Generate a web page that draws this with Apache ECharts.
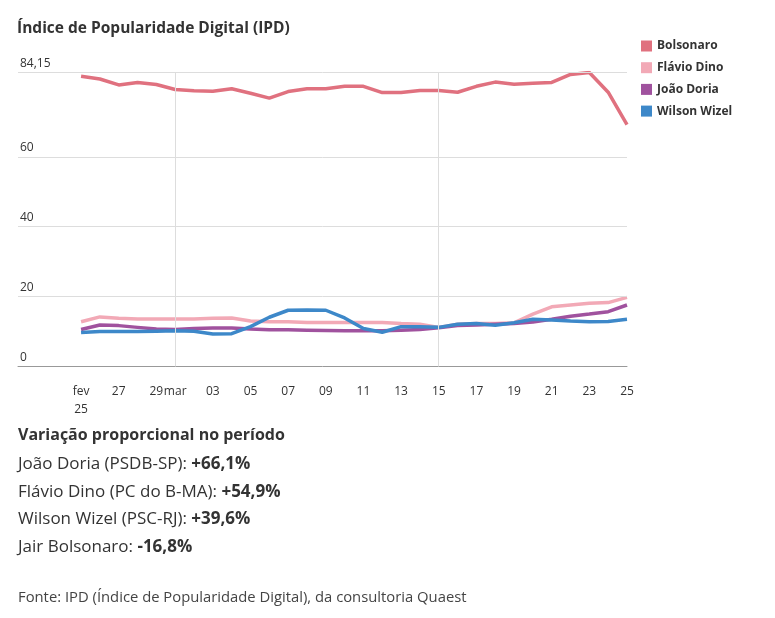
<!DOCTYPE html>
<html lang="pt">
<head>
  <meta charset="UTF-8">
  <script src="https://cdn.jsdelivr.net/npm/echarts@6/dist/echarts.min.js"></script>
  <style>
    body { margin: 0; background: #fff; }
    #main { width: 775px; height: 618px; }
  </style>
  <title>IPD</title>
</head>
<body>
  <div id="main"></div>
  <script>
    // 25 fev a 25 mar (30 dias)
    const dayLabels = ['fev\n25', '26', '27', '28', '29', 'mar', '02', '03', '04', '05', '06', '07', '08', '09', '10',
      '11', '12', '13', '14', '15', '16', '17', '18', '19', '20', '21', '22', '23', '24', '25'];
    const labelIdx = [0, 2, 4, 5, 7, 9, 11, 13, 15, 17, 19, 21, 23, 25, 27, 29];
    const gridIdx = [5, 19];
    const yTicks = [0, 20, 40, 60, 84.15];

    const bolsonaro = [83.1, 82.3, 80.6, 81.3, 80.7, 79.3, 78.9, 78.8, 79.5, 78.2, 76.8, 78.7, 79.5, 79.5, 80.2,
      80.2, 78.4, 78.4, 79.0, 79.0, 78.5, 80.2, 81.4, 80.8, 81.1, 81.3, 83.6, 84.15, 78.5, 69.2];
    const flavio = [12.8, 14.2, 13.8, 13.6, 13.6, 13.6, 13.6, 13.8, 13.9, 13.0, 12.8, 12.8, 12.6, 12.6, 12.6,
      12.6, 12.6, 12.3, 12.1, 11.2, 12.1, 12.3, 12.3, 12.5, 15.0, 17.1, 17.6, 18.1, 18.3, 19.8];
    const doria = [10.6, 11.9, 11.7, 11.2, 10.7, 10.6, 10.9, 11.0, 11.0, 10.7, 10.5, 10.5, 10.4, 10.3, 10.2,
      10.2, 10.2, 10.4, 10.6, 11.1, 11.7, 11.9, 12.1, 12.3, 12.7, 13.5, 14.4, 15.0, 15.7, 17.6];
    const witzel = [9.7, 10.0, 10.0, 10.0, 10.1, 10.2, 10.1, 9.3, 9.4, 11.4, 14.1, 16.1, 16.2, 16.1, 13.9,
      10.9, 9.8, 11.4, 11.4, 11.2, 12.1, 12.3, 11.8, 12.5, 13.5, 13.3, 13.0, 12.8, 12.9, 13.5];

    const names = ['Bolsonaro', 'Flávio Dino', 'João Doria', 'Wilson Wizel'];
    const colors = ['#e0717f', '#f2a9b6', '#a0529e', '#3d88c9'];
    const values = [bolsonaro, flavio, doria, witzel];

    const variacao = [
      ['João Doria (PSDB-SP): ', '+66,1%'],
      ['Flávio Dino (PC do B-MA): ', '+54,9%'],
      ['Wilson Wizel (PSC-RJ): ', '+39,6%'],
      ['Jair Bolsonaro: ', '-16,8%']
    ];

    const FONT = '"Open Sans", sans-serif';
    var chart = echarts.init(document.getElementById('main'));

    var series = names.map((name, k) => ({
      name: name,
      type: 'line',
      data: values[k].map((v, i) => [i, v]),
      showSymbol: false,
      symbol: 'none',
      lineStyle: { width: 3.5, color: colors[k] },
      itemStyle: { color: colors[k] },
      z: 3
    }));
    // linhas de grade: verticais (1 mar, 15 mar) e horizontais (sem o 80)
    series.push({
      type: 'line',
      data: [],
      z: 1,
      silent: true,
      markLine: {
        silent: true,
        symbol: 'none',
        label: { show: false },
        lineStyle: { color: '#dddddd', width: 1, type: 'solid' },
        data: gridIdx.map(i => ({ xAxis: i }))
          .concat(yTicks.filter(v => v > 0).map(v => ({ yAxis: v })))
      }
    });

    var texts = [{
      type: 'text', left: 18, top: 427,
      style: { text: 'Variação proporcional no período', font: 'bold 16px ' + FONT, fill: '#333' }
    }];
    variacao.forEach((r, k) => {
      texts.push({
        type: 'text', left: 18, top: 455.5 + k * 27.7,
        style: {
          text: r[0] + '{b|' + r[1] + '}',
          font: '17px ' + FONT, fill: '#333',
          rich: { b: { font: 'bold 17px ' + FONT, fill: '#333' } }
        }
      });
    });
    texts.push({
      type: 'text', left: 18, top: 590,
      style: { text: 'Fonte: IPD (Índice de Popularidade Digital), da consultoria Quaest', font: '14.8px ' + FONT, fill: '#444' }
    });

    var option = {
      animation: false,
      textStyle: { fontFamily: FONT },
      title: {
        text: 'Índice de Popularidade Digital (IPD)',
        left: 12, top: 16,
        textStyle: { fontSize: 15.5, fontWeight: 'bold', color: '#333', fontFamily: FONT }
      },
      legend: {
        orient: 'vertical',
        left: 636, top: 35,
        icon: 'rect',
        itemWidth: 11, itemHeight: 11, itemGap: 9.7,
        textStyle: { fontSize: 12, fontWeight: 'bold', color: '#333' },
        data: names
      },
      grid: { left: 18, right: 148, top: 72.5, bottom: 251.5 },
      xAxis: {
        type: 'value',
        min: -3.35, max: 29,
        axisLine: { show: true, onZero: true, lineStyle: { color: '#999', width: 1 } },
        axisTick: { show: false },
        splitLine: { show: false },
        axisLabel: {
          customValues: labelIdx,
          formatter: v => dayLabels[v] || '',
          color: '#333', fontSize: 12, margin: 16, lineHeight: 18, verticalAlign: 'top'
        }
      },
      yAxis: {
        type: 'value',
        min: 0, max: 84.15,
        axisLine: { show: false },
        axisTick: { show: false },
        axisLabel: {
          customValues: yTicks,
          inside: true, margin: 2, verticalAlign: 'bottom', padding: [0, 0, 3, 0],
          formatter: v => String(v).replace('.', ','),
          color: '#333', fontSize: 12
        },
        splitLine: { show: false }
      },
      series: series,
      graphic: texts
    };
    chart.setOption(option);
  </script>
</body>
</html>
